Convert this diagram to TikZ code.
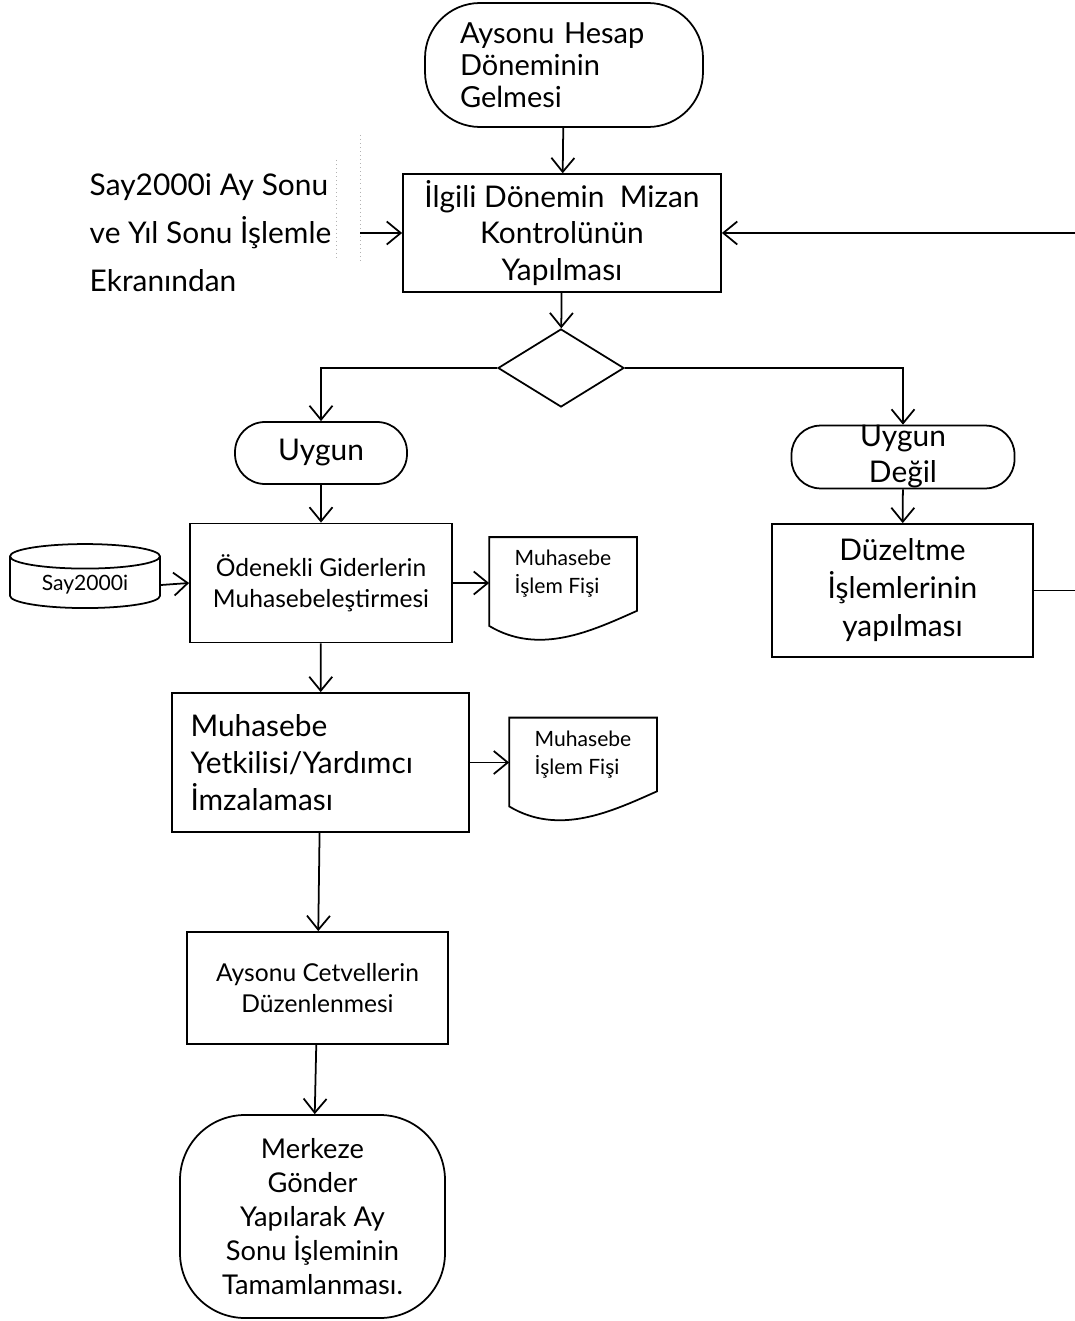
\documentclass[tikz,border=0pt]{standalone}
\usepackage{fontspec}
\setmainfont{Lato}
\usetikzlibrary{arrows.meta,shapes.geometric,calc,positioning}

\tikzset{
    terminal/.style={draw, rounded corners=#1, align=center},
    islem/.style={draw, rectangle, align=center},
    karar/.style={draw, diamond, inner sep=0pt, minimum width=2.52cm, minimum height=1.56cm},
    veri/.style={draw, cylinder, shape border rotate=90, aspect=0.25, align=center},
    belge/.style={rectangle, align=left, minimum width=2.92cm, minimum height=1.44cm, font=\yazi{12}{16}},
}
\newcommand{\yazi}[2]{\fontsize{#1}{#2}\selectfont}

\begin{document}
\begin{tikzpicture}[>={Straight Barb[length=2.8mm,width=4.6mm]}, line width=1pt]

    \useasboundingbox (0,0) rectangle (21.48,-26.42);

    \node[terminal=1.1cm, minimum width=5.56cm, minimum height=2.48cm, text width=4.16cm, align=left, font=\yazi{16.5}{18.2}] (baslangic) at (11.28,-1.30) {Aysonu Hesap\\Döneminin\\Gelmesi};
    \node[islem, minimum width=6.36cm, minimum height=2.34cm, font=\yazi{17}{21}]           (mizan)      at (11.24,-4.66)   {İlgili Dönemin\ \ Mizan\\Kontrolünün\\Yapılması};
    \node[align=left, anchor=west, font=\yazi{17}{27.3}]                                     (ekran)      at (1.66,-4.66)    {Say2000i Ay Sonu\\ve Yıl Sonu İşlemle\\Ekranından};
    \coordinate                                                                            (ekranok)    at (7.20,-4.66);
    \node[karar]                                                                            (karar)      at (11.22,-7.36)   {};

    \node[terminal=0.6cm, minimum width=3.44cm, minimum height=1.24cm, font=\yazi{17}{21}]  (uygun)      at (6.42,-9.06)    {Uygun};
    \node[terminal=0.58cm, minimum width=4.46cm, minimum height=1.18cm, inner sep=0pt, font=\yazi{17}{20.5}] (uygundegil) at (18.06,-9.14) {Uygun\\Değil};

    \node[islem, minimum width=5.24cm, minimum height=2.38cm, font=\yazi{14}{17.6}]         (odenek)     at (6.42,-11.66)   {Ödenekli Giderlerin\\Muhasebeleştirmesi};
    \node[veri, minimum width=3.0cm, minimum height=1.28cm, font=\yazi{12}{15}]            (say)        at (1.70,-11.70)   {Say2000i};
    \node[belge]                                                                            (fis1)       at (11.26,-11.48)  {Muhasebe\\İşlem Fişi};
    \node[islem, minimum width=5.22cm, minimum height=2.66cm, font=\yazi{17}{21.6}]         (duzelt)     at (18.05,-11.81)  {Düzeltme\\İşlemlerinin\\yapılması};

    \node[islem, minimum width=5.94cm, minimum height=2.78cm, text width=5.2cm, align=left, font=\yazi{17}{21}] (yetkili) at (6.41,-15.25) {Muhasebe\\Yetkilisi/Yardımcı\\İmzalaması};
    \node[belge]                                                                            (fis2)       at (11.66,-15.09)  {Muhasebe\\İşlem Fişi};

    \node[islem, minimum width=5.22cm, minimum height=2.24cm, font=\yazi{14}{17.6}]         (cetvel)     at (6.35,-19.76)   {Aysonu Cetvellerin\\Düzenlenmesi};
    \node[terminal=1.3cm, minimum width=5.3cm, minimum height=4.06cm, font=\yazi{15.5}{19.3}] (bitis)    at (6.25,-24.33)   {Merkeze\\Gönder\\Yapılarak Ay\\Sonu İşleminin\\Tamamlanması.};

    % belge kenarlari
    \foreach \b in {fis1,fis2}
        \draw (\b.south west) -- (\b.north west) -- (\b.north east) -- (\b.south east)
              .. controls ($(\b.south east)+(-0.9,-0.4)$) and ($(\b.south west)+(1.0,-0.9)$) .. ($(\b.south west)+(0,-0.3)$) -- cycle;

    % soluk kesikli cizgiler
    \draw[gray!60, line width=0.3pt, dotted] (6.72,-3.20) -- (6.72,-5.16);
    \draw[gray!60, line width=0.3pt, dotted] (7.20,-2.70) -- (7.20,-5.24);

    \draw[->] (baslangic) -- (mizan);
    \draw[->] (ekranok) -- (mizan.west);
    \draw[->] (mizan) -- (karar);
    \draw[->] (karar.west) -| (uygun.north);
    \draw[->] (karar.east) -| (uygundegil.north);
    \draw[->] (uygun) -- (odenek);
    \draw[->] (uygundegil) -- (duzelt);
    \draw[->] (say.east) -- (odenek.west);
    \draw[->] (odenek.east) -- (odenek.east -| fis1.west);
    \draw[->] (odenek) -- (yetkili);
    \draw[->] (yetkili.east) -- (yetkili.east -| fis2.west);
    \draw[->] (yetkili) -- (cetvel);
    \draw[->] (cetvel) -- (bitis);
    \draw[->] (duzelt.east) -| (21.80,-4.66) -- (mizan.east);

\end{tikzpicture}
\end{document}
